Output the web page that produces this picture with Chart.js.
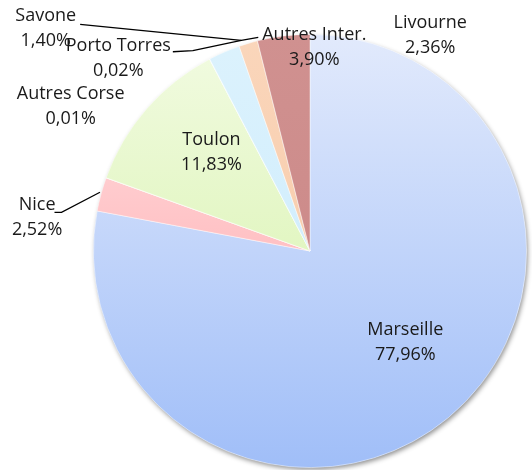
<!DOCTYPE html>
<html>
<head>
<meta charset="utf-8">
<script src="https://cdn.jsdelivr.net/npm/chart.js@4.4.0/dist/chart.umd.min.js"></script>
<style>
html,body{margin:0;padding:0;background:#fff;}
#wrap{width:532px;height:470px;}
</style>
</head>
<body>
<div id="wrap"><canvas id="c" width="532" height="470"></canvas></div>
<script>
const categories = ["Marseille","Nice","Autres Corse","Toulon","Porto Torres","Livourne","Savone","Autres Inter."];
const shares = [77.96, 2.52, 0.01, 11.83, 0.02, 2.36, 1.40, 3.90];
const shareLabels = ["77,96%","2,52%","0,01%","11,83%","0,02%","2,36%","1,40%","3,90%"];

// gradient colour pairs (top, bottom) per slice
const colorTop = ["#e2eafc","#ffe4e6","#eefadc","#f2fbe2","#e0f4fd","#dcf2fd","#fad6bb","#d09190"];
const colorBot = ["#a0bef8","#ff9ca0","#d6f3ab","#d2f1a2","#c6eafc","#c8eafc","#f6c6a2","#ca8584"];

// label placement in units of radius relative to pie centre (layout only)
const labelPos = [
  [0.44, 0.42],
  [-1.26, -0.155],
  [-1.105, -0.67],
  [-0.455, -0.455],
  [-0.885, -0.89],
  [0.555, -0.995],
  [-1.22, -1.03],
  [0.02, -0.94]
];

const FONT = '18px "Open Sans", Lato, sans-serif';
const HALF = 12.5;

const shadowPlugin = {
  id: 'pieShadow',
  beforeDatasetsDraw(chart) {
    const arc = chart.getDatasetMeta(0).data[0];
    if (!arc) return;
    const ctx = chart.ctx;
    ctx.save();
    ctx.shadowColor = 'rgba(0,0,0,0.45)';
    ctx.shadowBlur = 5;
    ctx.shadowOffsetX = 1.5;
    ctx.shadowOffsetY = 2.5;
    ctx.fillStyle = '#ffffff';
    ctx.beginPath();
    ctx.arc(arc.x, arc.y, arc.outerRadius - 0.5, 0, Math.PI * 2);
    ctx.fill();
    ctx.restore();
  }
};

const labelPlugin = {
  id: 'pieLabels',
  afterDatasetsDraw(chart) {
    const meta = chart.getDatasetMeta(0);
    const a0 = meta.data[0];
    const cx = a0.x, cy = a0.y, r = a0.outerRadius;
    const ctx = chart.ctx;
    ctx.save();
    ctx.font = FONT;
    ctx.fillStyle = '#1a1a1a';
    ctx.textAlign = 'center';
    ctx.textBaseline = 'middle';
    const pts = categories.map((name, i) => [cx + labelPos[i][0] * r, cy + labelPos[i][1] * r]);
    const edge = (i, k) => {
      const a = meta.data[i];
      const mid = (a.startAngle + a.endAngle) / 2;
      return [cx + Math.cos(mid) * r * k, cy + Math.sin(mid) * r * k];
    };
    ctx.strokeStyle = '#000';
    ctx.lineWidth = 1.3;
    // Nice
    {
      const p = pts[1];
      const e = edge(1, 1.0);
      const w = ctx.measureText(categories[1]).width;
      const y = p[1] - HALF + 7.5;
      ctx.beginPath();
      ctx.moveTo(p[0] + w / 2 - 1, y);
      ctx.lineTo(p[0] + w / 2 + 6, y);
      ctx.lineTo(e[0] - 1, e[1] - 2);
      ctx.stroke();
    }
    // Savone / Porto Torres / Autres Inter. meet near Savone slice top
    const sv = edge(6, 1.0);
    const meet = [sv[0] - 7, sv[1] - 3];
    {
      const p = pts[6];
      const w = ctx.measureText(categories[6]).width;
      ctx.beginPath();
      ctx.moveTo(p[0] + w / 2 + 4, p[1] - HALF + 9);
      ctx.lineTo(meet[0], meet[1]);
      ctx.stroke();
      const q = pts[4];
      const w2 = ctx.measureText(categories[4]).width;
      ctx.beginPath();
      ctx.moveTo(q[0] + w2 / 2 + 2, q[1] - HALF + 6);
      ctx.lineTo(q[0] + w2 / 2 + 22, q[1] - HALF + 5);
      ctx.lineTo(meet[0], meet[1]);
      ctx.lineTo(meet[0] + 17, meet[1] - 3);
      ctx.stroke();
    }
    categories.forEach((name, i) => {
      const [lx, ly] = pts[i];
      ctx.fillText(name, lx, ly - HALF);
      ctx.fillText(shareLabels[i], lx, ly + HALF);
    });
    ctx.restore();
  }
};

function grad(ctx, i) {
  const chart = ctx.chart;
  const area = chart.chartArea;
  if (!area) return colorTop[i];
  const g = chart.ctx.createLinearGradient(0, area.top, 0, area.bottom);
  g.addColorStop(0, colorTop[i]);
  g.addColorStop(1, colorBot[i]);
  return g;
}

new Chart(document.getElementById('c'), {
  type: 'pie',
  data: {
    labels: categories,
    datasets: [{
      data: shares,
      backgroundColor: (ctx) => grad(ctx, ctx.dataIndex),
      borderColor: 'rgba(255,255,255,0.55)',
      borderWidth: 0.8
    }]
  },
  options: {
    responsive: false,
    animation: false,
    rotation: 0,
    layout: { padding: { left: 93, right: 5, top: 34, bottom: 2 } },
    plugins: {
      legend: { display: false },
      tooltip: { enabled: false }
    }
  },
  plugins: [shadowPlugin, labelPlugin]
});
</script>
</body>
</html>
